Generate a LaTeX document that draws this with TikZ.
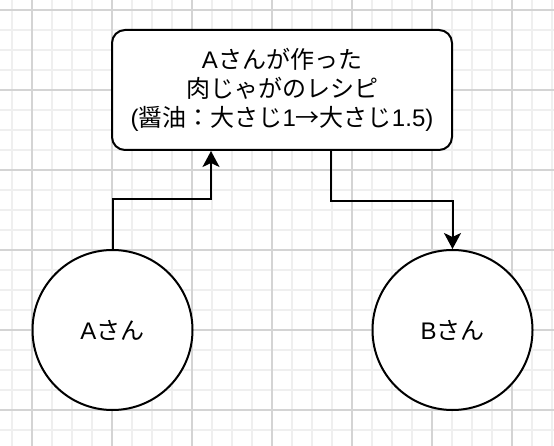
\documentclass[tikz,border=0pt]{standalone}
\usepackage{fontspec}
\setmainfont{Liberation Sans}
\newfontfamily\jp{Noto Sans CJK JP}
\usetikzlibrary{arrows.meta}
\definecolor{gridminor}{HTML}{EFEFEF}
\definecolor{gridmajor}{HTML}{D4D4D4}
\begin{document}
\begin{tikzpicture}[x=1pt,y=-1pt,
    every node/.style={font=\fontsize{24pt}{28.8pt}\selectfont},
    recipebox/.style={draw,line width=2pt,rounded corners=13pt,fill=white,
      minimum width=340pt,minimum height=120pt,align=center,inner sep=0pt},
    person/.style={draw,circle,line width=2pt,fill=white,
      minimum size=160pt,inner sep=0pt},
    flow/.style={line width=2pt,-{Stealth[length=16pt,width=17pt,inset=4pt]}}]
    % background and grid
    \fill[white] (0,0) rectangle (554,446);
    \useasboundingbox (0,0) rectangle (554,446);
    \foreach \x in {12,32,...,552}
      \draw[gridminor,line width=1.5pt] (\x,0) -- (\x,446);
    \foreach \y in {10,30,...,430}
      \draw[gridminor,line width=1.5pt] (0,\y) -- (554,\y);
    \foreach \x in {32,112,...,512}
      \draw[gridmajor,line width=1.2pt] (\x,0) -- (\x,446);
    \foreach \y in {10,90,...,410}
      \draw[gridmajor,line width=1.2pt] (0,\y) -- (554,\y);
    % nodes
    \node[recipebox] (recipe) at (282,90)
      {A{\jp さんが作った}\\{\jp 肉じゃがのレシピ}\\({\jp 醤油：大さじ}1{\jp →大さじ}1.5)};
    \node[person] (a) at (112.5,330) {A{\jp さん}};
    \node[person] (b) at (452.5,330) {B{\jp さん}};
    % connectors
    \draw[flow] (a.north) -- ++(0,-50) -| ([xshift=100pt]recipe.south west);
    \draw[flow] ([xshift=220pt]recipe.south west) -- ++(0,50) -| (b.north);
  \end{tikzpicture}
\end{document}
